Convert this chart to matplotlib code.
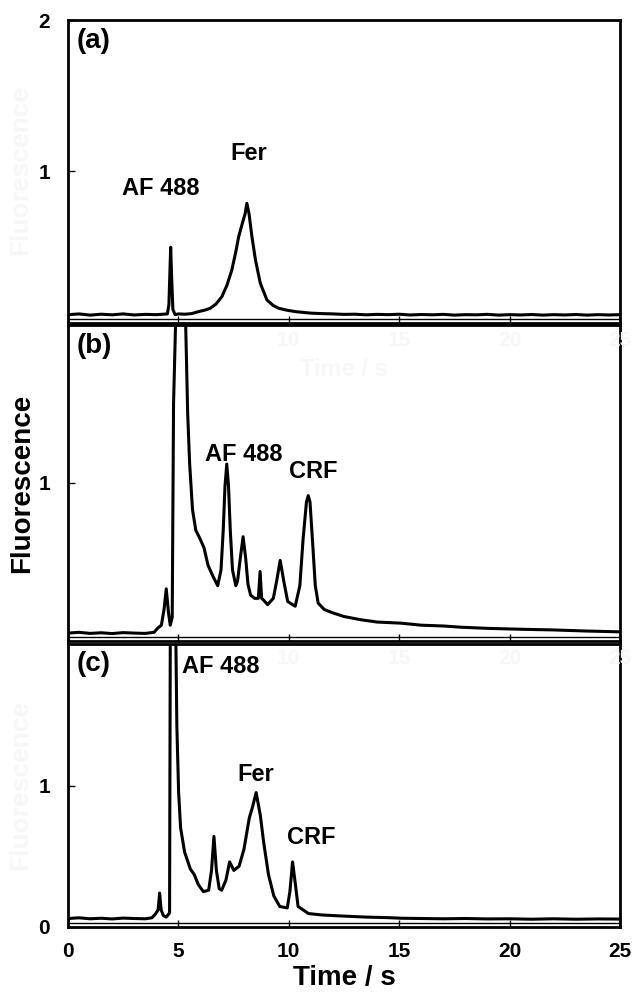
import matplotlib
matplotlib.use("Agg")
import matplotlib.pyplot as plt

plt.rcParams['font.family'] = ['Liberation Sans', 'DejaVu Sans']
plt.rcParams['font.weight'] = 'bold'

# ---------------- data ----------------
# panel (a)
a_time = [0, 0.5, 1, 1.5, 2, 2.5, 3, 3.5, 4, 4.3, 4.5, 4.57, 4.62, 4.65, 4.69, 4.75, 4.85,
          5.0, 5.3, 5.6, 5.91, 6.2, 6.44, 6.7, 6.97, 7.2, 7.42, 7.6, 7.73, 7.9, 8.02, 8.10,
          8.2, 8.33, 8.49, 8.71, 9.01, 9.3, 9.55, 9.9, 10.3, 11, 11.5, 12, 12.5, 13, 13.5,
          14, 14.5, 15, 15.5, 16, 16.5, 17, 17.5, 18, 18.5, 19, 19.5, 20, 20.5, 21, 21.5,
          22, 22.5, 23, 23.5, 24, 24.5, 25]
a_signal = [0.055, 0.06, 0.052, 0.058, 0.054, 0.06, 0.053, 0.057, 0.055, 0.058, 0.06, 0.12, 0.36, 0.50,
            0.32, 0.09, 0.055, 0.06, 0.058, 0.062, 0.075, 0.085, 0.097, 0.125, 0.174, 0.25, 0.35,
            0.47, 0.57, 0.66, 0.72, 0.79, 0.72, 0.57, 0.416, 0.262, 0.152, 0.115, 0.097, 0.085,
            0.075, 0.065, 0.062, 0.06, 0.057, 0.058, 0.054, 0.057, 0.055, 0.058, 0.053, 0.056,
            0.054, 0.057, 0.052, 0.055, 0.054, 0.057, 0.052, 0.055, 0.053, 0.056, 0.052, 0.055,
            0.053, 0.056, 0.052, 0.055, 0.053, 0.055]

# panel (b)
b_time = [0, 0.5, 1, 1.5, 2, 2.5, 3, 3.5, 3.9, 4.05, 4.23, 4.35, 4.45, 4.55, 4.63, 4.72, 4.78,
          5.05, 5.33, 5.42, 5.51, 5.64, 5.79, 5.97, 6.16, 6.34, 6.53, 6.78, 6.93, 7.03, 7.11,
          7.19, 7.27, 7.35, 7.45, 7.6, 7.68, 7.8, 7.93, 8.05, 8.15, 8.27, 8.45, 8.62, 8.70,
          8.77, 8.85, 9.04, 9.3, 9.45, 9.61, 9.77, 9.95, 10.29, 10.5, 10.65, 10.8, 10.88,
          10.96, 11.08, 11.2, 11.33, 11.6, 11.95, 12.5, 13.24, 14, 15.07, 16, 17, 17.83,
          19, 20.6, 22, 23.5, 25]
b_signal = [0.05, 0.055, 0.048, 0.052, 0.047, 0.053, 0.05, 0.048, 0.055, 0.08, 0.10, 0.2, 0.33,
            0.18, 0.10, 0.15, 1.5, 3.0, 2.0, 1.44, 1.12, 0.83, 0.70, 0.65, 0.59, 0.48, 0.42,
            0.35, 0.45, 0.7, 0.98, 1.12, 0.98, 0.7, 0.45, 0.35, 0.38, 0.52, 0.66, 0.52, 0.36,
            0.29, 0.27, 0.27, 0.44, 0.27, 0.26, 0.23, 0.27, 0.38, 0.51, 0.38, 0.25, 0.22, 0.35,
            0.65, 0.88, 0.92, 0.88, 0.62, 0.35, 0.24, 0.2, 0.18, 0.155, 0.135, 0.12, 0.113,
            0.1, 0.095, 0.087, 0.08, 0.074, 0.07, 0.063, 0.058]

# panel (c)
c_time = [0, 0.5, 1, 1.5, 2, 2.5, 3, 3.5, 3.8, 3.95, 4.08, 4.15, 4.22, 4.32, 4.45, 4.6, 4.64,
          4.75, 4.85, 4.93, 5.01, 5.1, 5.28, 5.54, 5.72, 5.9, 6.13, 6.37, 6.5, 6.61, 6.72,
          6.85, 6.96, 7.15, 7.32, 7.51, 7.75, 7.97, 8.21, 8.36, 8.52, 8.71, 8.86, 9.08, 9.32,
          9.59, 9.93, 10.05, 10.17, 10.3, 10.42, 10.89, 11.5, 12.36, 13.5, 14.5, 15.1, 16,
          17, 18, 19, 20, 21, 22, 23, 24, 25]
c_signal = [0.06, 0.065, 0.058, 0.062, 0.057, 0.063, 0.06, 0.058, 0.065, 0.09, 0.12, 0.24, 0.12,
            0.08, 0.07, 0.1, 2.5, 3.5, 2.5, 1.42, 0.95, 0.70, 0.53, 0.41, 0.37, 0.30, 0.25,
            0.26, 0.4, 0.64, 0.4, 0.27, 0.26, 0.33, 0.46, 0.40, 0.43, 0.55, 0.77, 0.85, 0.95,
            0.79, 0.60, 0.37, 0.22, 0.145, 0.135, 0.25, 0.46, 0.3, 0.145, 0.095, 0.085, 0.078,
            0.07, 0.066, 0.062, 0.06, 0.058, 0.06, 0.057, 0.058, 0.055, 0.058, 0.055, 0.057,
            0.056]

panel_tags = ['(a)', '(b)', '(c)']
a_peaks = [('AF 488', 4.2, 0.89), ('Fer', 8.2, 1.12)]
b_peaks = [('AF 488', 7.95, 1.18), ('CRF', 11.1, 1.07)]
c_peaks = [('AF 488', 6.9, 1.84), ('Fer', 8.5, 1.08), ('CRF', 11.0, 0.63)]
x_ticks = [0, 5, 10, 15, 20, 25]
y_ticks = [[1, 2], [1], [0, 1]]

# ---------------- layout ----------------
W, H = 632, 999
fig = plt.figure(figsize=(W / 100, H / 100), dpi=100)
left_px, right_px = 68, 620
panels_px = [(20, 323), (325, 641), (644, 927)]
axes = []
for top, bot in panels_px:
    ax = fig.add_axes([left_px / W, 1 - bot / H, (right_px - left_px) / W, (bot - top) / H])
    axes.append(ax)

series = [(a_time, a_signal, a_peaks), (b_time, b_signal, b_peaks), (c_time, c_signal, c_peaks)]
for i, (ax, (t, s, peaks)) in enumerate(zip(axes, series)):
    ax.plot(t, s, color='black', lw=2.2, solid_joinstyle='round')
    ax.axhline(0.027, color='black', lw=1.0)
    ax.set_xlim(0, 25)
    ax.set_ylim(0, 2)
    ax.set_xticks(x_ticks)
    ax.set_yticks(y_ticks[i])
    ax.tick_params(direction='in', length=5, width=1.0, labelsize=15, pad=13)
    ax.tick_params(axis='x', pad=11)
    for sp in ax.spines.values():
        sp.set_linewidth(2.0)
    if i < 2:
        ax.tick_params(labelbottom=False)
    ax.text(0.015, 0.975, panel_tags[i], transform=ax.transAxes, ha='left', va='top',
            fontsize=20, fontweight='bold')
    for lab, x, y in peaks:
        ax.text(x, y, lab, ha='center', va='center', fontsize=17, fontweight='bold')

# very faint ghost texts visible in the reference
ghost = '#f7f7f7'
for ax in axes[1:]:
    for tv in [10, 15, 20, 25]:
        ax.text(tv, 1.9, str(tv), ha='center', va='center', fontsize=15, color=ghost)
axes[1].text(12.5, 1.72, 'Time / s', ha='center', va='center', fontsize=17, color=ghost)
fig.text(20 / W, 1 - 170 / H, 'Fluorescence', rotation=90, ha='center', va='center',
         fontsize=19, color=ghost)
fig.text(20 / W, 1 - 785 / H, 'Fluorescence', rotation=90, ha='center', va='center',
         fontsize=19, color=ghost)

axes[2].set_xlabel('Time / s', fontsize=20, fontweight='bold', labelpad=3)
fig.text(22 / W, 1 - 483 / H, 'Fluorescence', rotation=90, ha='center', va='center',
         fontsize=20, fontweight='bold')

fig.savefig('out.png', dpi=100)
